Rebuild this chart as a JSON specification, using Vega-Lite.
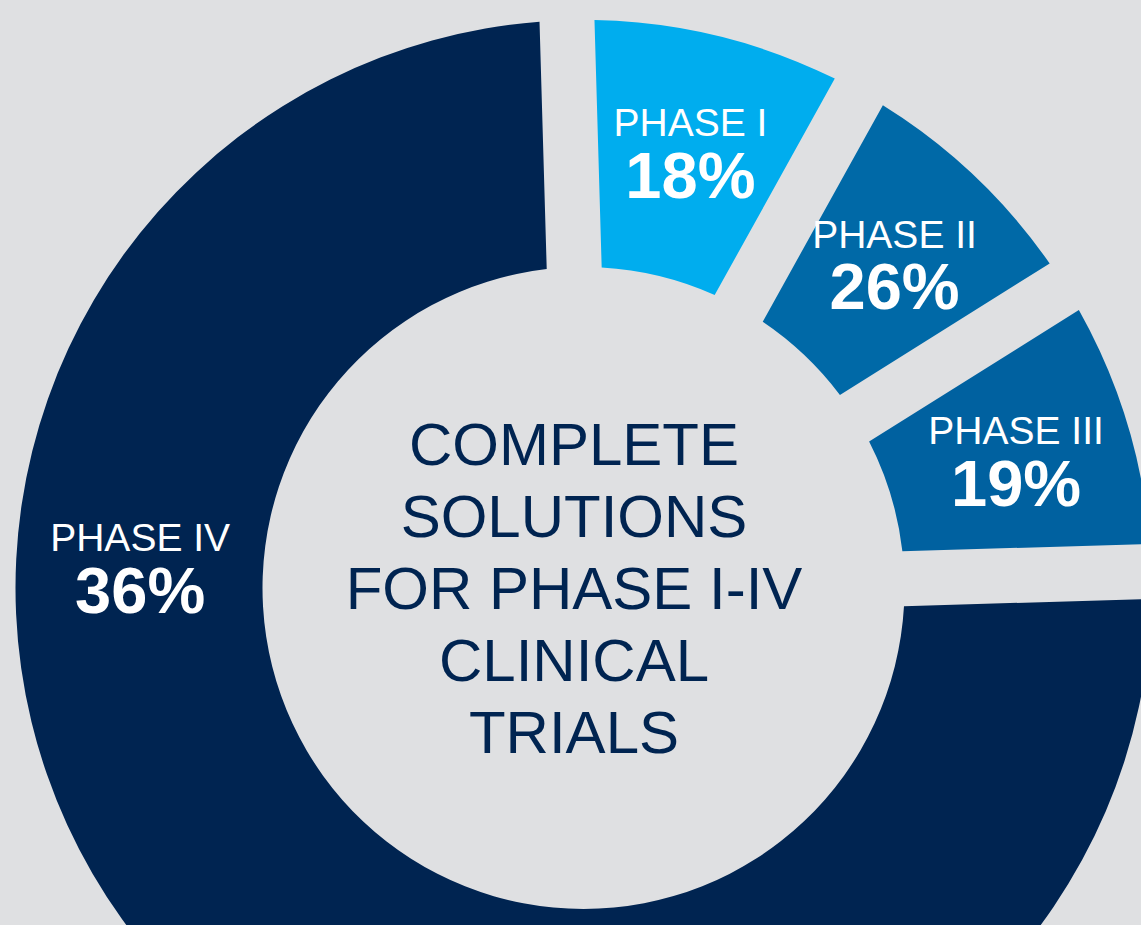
{
  "$schema": "https://vega.github.io/schema/vega-lite/v6.json",
  "width": 1115,
  "height": 674,
  "autosize": {"type": "none"},
  "padding": {"left": 26, "top": 251, "right": 0, "bottom": 0},
  "background": "#dfe0e2",
  "config": {"view": {"stroke": null}, "font": "Liberation Sans"},
  "datasets": {
    "phases": [
      {"phase": "PHASE I", "share": 0.18, "span": 30.7},
      {"phase": "PHASE II", "share": 0.26, "span": 28.9},
      {"phase": "PHASE III", "share": 0.19, "span": 30.4},
      {"phase": "PHASE IV", "share": 0.36, "span": 270.0}
    ],
    "caption": [
      {"text": "COMPLETE\nSOLUTIONS\nFOR PHASE I-IV\nCLINICAL\nTRIALS"}
    ]
  },
  "layer": [
    {
      "data": {"name": "phases"},
      "mark": {"type": "arc", "radius": 568, "radius2": 321, "padAngle": 0.0843},
      "encoding": {
        "theta": {"field": "span", "type": "quantitative", "stack": true, "scale": {"domain": [0, 360], "range": [-0.0291, 6.2541]}},
        "order": {"field": "phase", "type": "ordinal", "sort": "ascending"},
        "color": {
          "field": "phase", "type": "nominal", "legend": null,
          "scale": {"domain": ["PHASE I", "PHASE II", "PHASE III", "PHASE IV"], "range": ["#00adee", "#0069a7", "#0061a0", "#002451"]}
        }
      }
    },
    {
      "data": {"name": "phases"},
      "mark": {"type": "text", "radius": 452, "dy": -24.5, "fontSize": 39, "color": "#ffffff", "align": "center", "baseline": "middle"},
      "encoding": {
        "theta": {"field": "span", "type": "quantitative", "stack": true},
        "order": {"field": "phase", "type": "ordinal", "sort": "ascending"},
        "text": {"field": "phase", "type": "nominal", "condition": {"test": "datum.phase === 'PHASE IV'", "value": ""}}
      }
    },
    {
      "data": {"name": "phases"},
      "mark": {"type": "text", "radius": 452, "dy": 29, "fontSize": 65, "fontWeight": "bold", "color": "#ffffff", "align": "center", "baseline": "middle"},
      "encoding": {
        "theta": {"field": "span", "type": "quantitative", "stack": true},
        "order": {"field": "phase", "type": "ordinal", "sort": "ascending"},
        "text": {"field": "share", "type": "quantitative", "format": ".0%", "condition": {"test": "datum.phase === 'PHASE IV'", "value": ""}}
      }
    },
    {
      "data": {"name": "phases"},
      "transform": [{"filter": "datum.phase === 'PHASE IV'"}],
      "mark": {"type": "text", "theta": 4.7665, "radius": 444, "dy": -24.5, "fontSize": 39, "color": "#ffffff", "align": "center", "baseline": "middle"},
      "encoding": {
        "text": {"field": "phase", "type": "nominal"}
      }
    },
    {
      "data": {"name": "phases"},
      "transform": [{"filter": "datum.phase === 'PHASE IV'"}],
      "mark": {"type": "text", "theta": 4.7665, "radius": 444, "dy": 29, "fontSize": 65, "fontWeight": "bold", "color": "#ffffff", "align": "center", "baseline": "middle"},
      "encoding": {
        "text": {"field": "share", "type": "quantitative", "format": ".0%"}
      }
    },
    {
      "data": {"name": "caption"},
      "mark": {"type": "text", "fontSize": 60, "lineHeight": 72, "lineBreak": "\n", "color": "#002451", "dx": -9.5, "dy": -141.5, "align": "center", "baseline": "middle"},
      "encoding": {
        "text": {"field": "text", "type": "nominal"}
      }
    }
  ]
}
